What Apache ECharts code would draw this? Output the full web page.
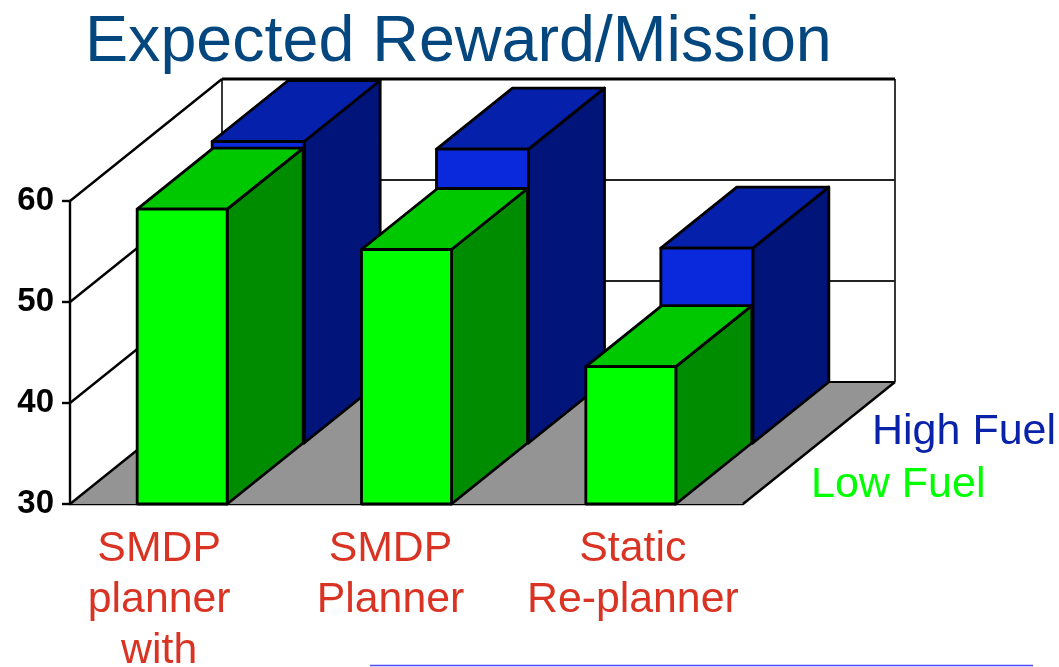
<!DOCTYPE html>
<html>
<head>
<meta charset="utf-8">
<style>html,body{margin:0;padding:0;background:#fff}#c{width:1059px;height:667px}</style>
<script src="https://cdn.jsdelivr.net/npm/echarts@6/dist/echarts.min.js"></script>
</head>
<body>
<div id="c"></div>
<script>
var titleText = 'Expected Reward/Mission';
var categories = ['SMDP\nplanner\nwith', 'SMDP\nPlanner', 'Static\nRe-planner'];
var lowFuel = [59.2, 55.2, 43.6];
var highFuel = [59.85, 59.1, 49.3];
var yTicks = [30, 40, 50, 60];

var FONT = '"Liberation Sans", Arial, Helvetica, sans-serif';
var DX = 76, DY = -61;      // on-screen depth of one bar row

function poly(pts, fill, lw) {
  return { type: 'polygon', shape: { points: pts },
    style: { fill: fill, stroke: '#000', lineWidth: lw == null ? 2.8 : lw, lineJoin: 'round' } };
}
function seg(a, b, color, w) {
  return { type: 'line', shape: { x1: a[0], y1: a[1], x2: b[0], y2: b[1] },
    style: { stroke: color, lineWidth: w, fill: null } };
}
function boxRenderer(row, barW, front, top, side) {
  return function (params, api) {
    var top0 = api.coord([api.value(0), api.value(1)]);
    var base0 = api.coord([api.value(0), yTicks[0]]);
    var ox = row * DX, oy = row * DY;
    var xl = top0[0] - barW / 2 + ox, xr = xl + barW;
    var yt = top0[1] + oy, yb = base0[1] + oy;
    return { type: 'group', children: [
      poly([[xr, yt], [xr + DX, yt + DY], [xr + DX, yb + DY], [xr, yb]], side),
      poly([[xl, yt], [xl + DX, yt + DY], [xr + DX, yt + DY], [xr, yt]], top),
      poly([[xl, yt], [xr, yt], [xr, yb], [xl, yb]], front)
    ]};
  };
}
function frameRenderer(params, api) {
  var v = api.value(0);
  var p = api.coord([0, v]);
  var base = api.coord([0, yTicks[0]]);
  var topV = api.coord([0, yTicks[yTicks.length - 1]]);
  var band = api.size([1, 0])[0];
  var xl = p[0] - band / 2, xr = xl + band * categories.length;
  var ddx = 2 * DX, ddy = 2 * DY;
  var kids = [];
  if (v === yTicks[0]) {
    kids.push({ type: 'polygon',
      shape: { points: [[xl, p[1]], [xr, p[1]], [xr + ddx, p[1] + ddy], [xl + ddx, p[1] + ddy]] },
      style: { fill: '#949494', stroke: null } });
    kids.push(seg([xr, p[1]], [xr + ddx, p[1] + ddy], '#000', 2.4));
    kids.push(seg([xl + ddx, base[1] + ddy], [xl + ddx, topV[1] + ddy], '#222', 1.8));
    kids.push(seg([xr + ddx, base[1] + ddy], [xr + ddx, topV[1] + ddy], '#222', 1.8));
  }
  var isTop = v === yTicks[yTicks.length - 1];
  var isFloor = v === yTicks[0];
  kids.push(seg([xl, p[1]], [xl + ddx, p[1] + ddy], '#000', 2.4));
  kids.push(seg([xl + ddx, p[1] + ddy], [xr + ddx, p[1] + ddy],
    isTop || isFloor ? '#000' : '#222', isTop ? 2.8 : (isFloor ? 2.2 : 1.8)));
  return { type: 'group', children: kids };
}

var labelShift = [[0, 46, 0, 0], [0, 32, 0, 0], [0, 0, 0, 4]];
var rich = {};
labelShift.forEach(function (pad, i) {
  rich['c' + i] = { color: '#d93324', fontFamily: FONT, fontSize: 42.8, lineHeight: 51, padding: pad, align: 'center' };
});

var chart = echarts.init(document.getElementById('c'), null, { renderer: 'canvas' });
chart.setOption({
  animation: false,
  backgroundColor: '#fff',
  title: { text: titleText, left: 85, top: 5, padding: 0,
    textStyle: { color: '#04467e', fontFamily: FONT, fontSize: 64.6, fontWeight: 'normal', lineHeight: 76 } },
  grid: { left: 70, right: 316, top: 201, bottom: 163, containLabel: false, outerBoundsMode: 'none' },
  xAxis: {
    type: 'category', data: categories, boundaryGap: true,
    axisTick: { show: false },
    axisLine: { show: true, onZero: false, lineStyle: { color: '#000', width: 2.4 } },
    axisLabel: { margin: 20, interval: 0, hideOverlap: false,
      formatter: function (value) {
        var i = categories.indexOf(value);
        return value.split('\n').map(function (l) { return '{c' + i + '|' + l + '}'; }).join('\n');
      },
      rich: rich }
  },
  yAxis: {
    type: 'value', min: 30, max: 60, interval: 10,
    splitLine: { show: false },
    axisLine: { show: true, lineStyle: { color: '#000', width: 2.4 } },
    axisTick: { show: true, length: 8, lineStyle: { color: '#000', width: 2.4 } },
    axisLabel: { margin: 16, color: '#000', fontFamily: FONT, fontSize: 33, fontWeight: 'bold' }
  },
  series: [
    { type: 'custom', name: 'Frame', z: 1, silent: true, renderItem: frameRenderer,
      encode: { y: 0 }, data: yTicks.map(function (v) { return [v]; }) },
    { type: 'custom', name: 'High Fuel', z: 2, silent: true,
      renderItem: boxRenderer(1, 92, '#0a28dc', '#0520aa', '#00147a'),
      encode: { x: 0, y: 1 }, data: highFuel.map(function (v, i) { return [i, v]; }) },
    { type: 'custom', name: 'Low Fuel', z: 3, silent: true,
      renderItem: boxRenderer(0, 90, '#00ff00', '#00c800', '#008c00'),
      encode: { x: 0, y: 1 }, data: lowFuel.map(function (v, i) { return [i, v]; }) }
  ],
  graphic: [
    { type: 'text', left: 872, top: 411, z: 10,
      style: { text: 'High Fuel', fill: '#0a22a8', font: '43px ' + FONT } },
    { type: 'text', left: 811, top: 464, z: 10,
      style: { text: 'Low Fuel', fill: '#00ff00', font: '43px ' + FONT } },
    { type: 'line', z: 10, shape: { x1: 370, y1: 665.5, x2: 1033, y2: 665.5 },
      style: { stroke: '#4a4aff', lineWidth: 1.5 } }
  ]
});
</script>
</body>
</html>
